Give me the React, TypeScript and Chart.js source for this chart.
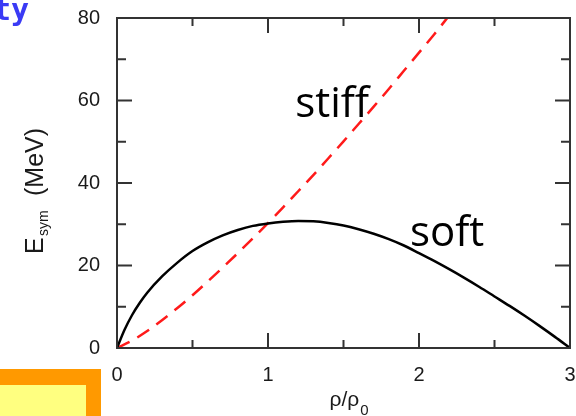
import { useEffect, useRef } from "react";
import { Chart, registerables } from "chart.js";
Chart.register(...registerables);

// density ratio rho/rho0 and symmetry energy (MeV)
const rhoSoft = [0, 0.05, 0.1, 0.15, 0.2, 0.3, 0.4, 0.5, 0.6, 0.7, 0.8, 0.9, 1.0, 1.1, 1.2, 1.3, 1.4, 1.5, 1.6, 1.7, 1.8, 1.9, 2.0, 2.1, 2.2, 2.3, 2.4, 2.5, 2.6, 2.7, 2.8, 2.9, 3.0];
const eSoft = [0, 4.4, 8.0, 10.9, 13.4, 17.4, 20.7, 23.5, 25.6, 27.3, 28.6, 29.6, 30.2, 30.6, 30.8, 30.7, 30.3, 29.7, 28.8, 27.7, 26.4, 24.85, 23.0, 21.1, 19.1, 17.0, 14.8, 12.5, 10.2, 7.8, 5.3, 2.7, 0];

const rhoStiff = [0, 0.1, 0.2, 0.3, 0.4, 0.5, 0.6, 0.7, 0.8, 0.9, 1.0, 1.1, 1.2, 1.3, 1.4, 1.5, 1.6, 1.7, 1.8, 1.9, 2.0, 2.1, 2.2];
const eStiff = [0, 1.8, 4.1, 6.8, 9.7, 12.8, 16.1, 19.5, 23.0, 26.6, 30.3, 34.1, 38.0, 41.9, 46.0, 50.1, 54.3, 58.5, 62.8, 67.2, 71.6, 76.0, 80.6];

const xMajor = [1, 2];
const xMinor = [0.5, 1.5, 2.5];
const yMajor = [20, 40, 60];
const yMinor = [10, 30, 50, 70];

const labelStiff = { text: "stiff", x: 1.18, y: 55.9 };
const labelSoft = { text: "soft", x: 1.94, y: 24.8 };

const framePlugin = {
  id: "frame",
  beforeDraw(chart: any) {
    const { ctx, width, height } = chart;
    ctx.save();
    ctx.fillStyle = "#ffffff";
    ctx.fillRect(0, 0, width, height);
    ctx.restore();
  },
  afterDraw(chart: any) {
    const { ctx, chartArea: a } = chart;
    const xs = chart.scales.x;
    const ys = chart.scales.y;
    ctx.save();
    ctx.strokeStyle = "#333333";
    ctx.lineWidth = 2;
    ctx.strokeRect(a.left, a.top, a.right - a.left, a.bottom - a.top);
    const tick = (vals: number[], len: number) => {
      vals.forEach((v) => {
        const px = xs.getPixelForValue(v);
        ctx.beginPath();
        ctx.moveTo(px, a.bottom);
        ctx.lineTo(px, a.bottom - len);
        ctx.moveTo(px, a.top);
        ctx.lineTo(px, a.top + len);
        ctx.stroke();
      });
    };
    const ytick = (vals: number[], len: number) => {
      vals.forEach((v) => {
        const py = ys.getPixelForValue(v);
        ctx.beginPath();
        ctx.moveTo(a.left, py);
        ctx.lineTo(a.left + len, py);
        ctx.moveTo(a.right, py);
        ctx.lineTo(a.right - len, py);
        ctx.stroke();
      });
    };
    tick(xMajor, 15);
    tick(xMinor, 8);
    ytick(yMajor, 15);
    ytick(yMinor, 9);

    // curve labels
    ctx.fillStyle = "#000000";
    ctx.textBaseline = "alphabetic";
    ctx.textAlign = "left";
    ctx.font = '42px "Open Sans"';
    ctx.fillText(labelStiff.text, xs.getPixelForValue(labelStiff.x), ys.getPixelForValue(labelStiff.y));
    ctx.fillText(labelSoft.text, xs.getPixelForValue(labelSoft.x), ys.getPixelForValue(labelSoft.y));

    // x axis title rho/rho0
    ctx.fillStyle = "#1a1a1a";
    const mainX = '21px "Liberation Sans"';
    const subX = '15px "Liberation Sans"';
    ctx.font = mainX;
    const t1 = "\u03c1/\u03c1";
    const w1 = ctx.measureText(t1).width;
    ctx.font = subX;
    const w2 = ctx.measureText("0").width;
    const cx = (a.left + a.right) / 2 + 5;
    const sx = cx - (w1 + w2) / 2;
    ctx.font = mainX;
    ctx.fillText(t1, sx, 406);
    ctx.font = subX;
    ctx.fillText("0", sx + w1 + 1, 415);

    // y axis title E_sym (MeV), reading bottom to top
    ctx.translate(43, 254);
    ctx.rotate(-Math.PI / 2);
    ctx.font = '25px "Liberation Sans"';
    ctx.fillText("E", 0, 0);
    ctx.font = '14px "Liberation Sans"';
    ctx.fillText("sym", 18, 5);
    ctx.font = '25px "Liberation Sans"';
    ctx.fillText("(MeV)", 58, 0);
    ctx.restore();

    // slide decorations: cut-off title and box
    ctx.save();
    ctx.fillStyle = "#3a3af5";
    ctx.font = 'bold 30px "DejaVu Sans Mono"';
    ctx.textAlign = "right";
    ctx.fillText("ty", 29, 20);
    ctx.fillStyle = "#ff9900";
    ctx.fillRect(0, 369, 101, 47);
    ctx.fillStyle = "#ffff80";
    ctx.fillRect(0, 385, 86, 31);
    ctx.restore();
  },
};

export default function App() {
  const ref = useRef<HTMLCanvasElement | null>(null);
  useEffect(() => {
    if (!ref.current) return;
    const chart = new Chart(ref.current, {
      type: "line",
      data: {
        datasets: [
          {
            label: "soft",
            data: rhoSoft.map((r, i) => ({ x: r, y: eSoft[i] })),
            borderColor: "#000000",
            borderWidth: 2.5,
            pointRadius: 0,
            cubicInterpolationMode: "monotone",
            fill: false,
          },
          {
            label: "stiff",
            data: rhoStiff.map((r, i) => ({ x: r, y: eStiff[i] })),
            borderColor: "#ff1a1a",
            borderWidth: 2.5,
            borderDash: [14, 9],
            pointRadius: 0,
            cubicInterpolationMode: "monotone",
            fill: false,
          },
        ],
      },
      options: {
        animation: false,
        responsive: false,
        devicePixelRatio: 1,
        layout: { padding: { top: 18, right: 6, left: 0, bottom: 0 } },
        plugins: { legend: { display: false }, tooltip: { enabled: false } },
        scales: {
          x: {
            type: "linear",
            min: 0,
            max: 3,
            grid: { display: false, drawTicks: false },
            border: { display: false },
            ticks: {
              stepSize: 1,
              padding: 15,
              color: "#1a1a1a",
              font: { family: "Liberation Sans", size: 20 },
              maxRotation: 0,
            },
            afterFit: (s: any) => {
              s.height = 68;
              s.paddingLeft = 0;
              s.paddingRight = 0;
            },
          },
          y: {
            type: "linear",
            min: 0,
            max: 80,
            grid: { display: false, drawTicks: false },
            border: { display: false },
            ticks: {
              stepSize: 20,
              padding: 17,
              color: "#1a1a1a",
              font: { family: "Liberation Sans", size: 20 },
            },
            afterFit: (s: any) => {
              s.width = 117;
              s.paddingTop = 0;
              s.paddingBottom = 0;
            },
          },
        },
      },
      plugins: [framePlugin],
    });
    return () => chart.destroy();
  }, []);
  return (
    <div style={{ position: "absolute", left: 0, top: 0, width: 576, height: 416 }}>
      <canvas ref={ref} width={576} height={416} />
    </div>
  );
}
